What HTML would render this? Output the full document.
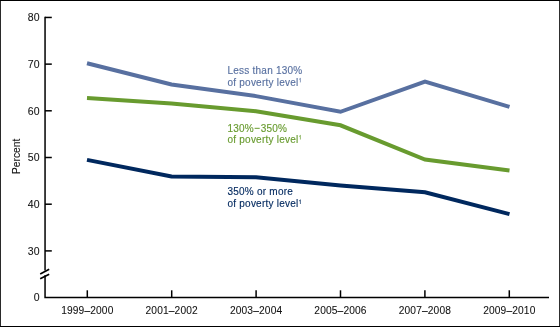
<!DOCTYPE html>
<html><head><meta charset="utf-8">
<style>
html,body{margin:0;padding:0;background:#fff;}
body{width:560px;height:328px;overflow:hidden;}
svg{display:block;will-change:transform;}
text{font-family:"Liberation Sans",sans-serif;}
.ax text{stroke:currentColor;stroke-width:0.08;}
.lb text{stroke:currentColor;stroke-width:0.14;}
</style></head>
<body>
<svg width="560" height="328" viewBox="0 0 560 328">
<rect x="0" y="0" width="560" height="328" fill="#fff"/>
<!-- frame -->
<rect x="0" y="0" width="1" height="327" fill="#2a2a2a"/>
<rect x="559" y="0" width="1" height="327" fill="#2e2e2e"/>
<rect x="0" y="0" width="560" height="1" fill="#000"/>
<rect x="0" y="326" width="560" height="1" fill="#000"/>
<!-- axes -->
<g stroke="#000" stroke-width="1.5" fill="none">
<path d="M45.05 16.7 V270.6"/>
<path d="M45.05 275.3 V297.4 H549"/>
<path d="M45 17.45 H51.8"/>
<path d="M45 64.13 H51.8"/>
<path d="M45 110.8 H51.8"/>
<path d="M45 157.5 H51.8"/>
<path d="M45 204.2 H51.8"/>
<path d="M45 250.9 H51.8"/>
<path d="M40.2 273.9 L49.2 269.3" stroke-width="1.7"/>
<path d="M40.2 278.7 L49.2 274.2" stroke-width="1.7"/>
<path d="M87.3 297 V290.3"/>
<path d="M171.7 297 V290.3"/>
<path d="M256.1 297 V290.3"/>
<path d="M340.5 297 V290.3"/>
<path d="M424.9 297 V290.3"/>
<path d="M509.3 297 V290.3"/>
</g>
<!-- y labels -->
<g font-size="10.5" fill="#111" color="#111" text-anchor="end" class="ax">
<text x="39.5" y="21">80</text>
<text x="39.5" y="68">70</text>
<text x="39.5" y="114.5">60</text>
<text x="39.5" y="161">50</text>
<text x="39.5" y="208">40</text>
<text x="39.5" y="254.5">30</text>
<text x="39.5" y="301">0</text>
</g>
<g class="ax"><text font-size="10.3" fill="#111" color="#111" text-anchor="middle" transform="translate(20 156.3) rotate(-90)">Percent</text></g>
<!-- x labels -->
<g font-size="10.2" fill="#111" color="#111" text-anchor="middle" letter-spacing="0.15" class="ax">
<text x="87.3" y="313.6">1999–2000</text>
<text x="171.7" y="313.6">2001–2002</text>
<text x="256.1" y="313.6">2003–2004</text>
<text x="340.5" y="313.6">2005–2006</text>
<text x="424.9" y="313.6">2007–2008</text>
<text x="509.3" y="313.6">2009–2010</text>
</g>
<!-- data -->
<g fill="none" stroke-width="4" stroke-linejoin="miter" stroke-linecap="butt">
<polyline stroke="#5870a0" points="87,63.2 171.5,84.5 256,96.1 340.5,111.8 425,81.7 509.5,106.9"/>
<polyline stroke="#689b2f" points="87,97.9 171.5,103.5 256,111.2 340.5,125.3 425,159.6 509.5,170.4"/>
<polyline stroke="#00285e" points="87,159.9 171.5,176.4 256,177.3 340.5,185.4 425,192.2 509.5,214.1"/>
</g>
<!-- labels -->
<g font-size="10" class="lb" letter-spacing="0.23">
<text x="227.5" y="74.2" fill="#5870a0" color="#5870a0">Less than 130%</text>
<text x="227.5" y="85.7" fill="#5870a0" color="#5870a0">of poverty level</text>
<text x="227.5" y="131.5" fill="#689b2f" color="#689b2f">130%<tspan dx="6.7">350%</tspan></text>
<rect x="254.6" y="127.8" width="5.1" height="1" fill="#689b2f"/>
<text x="227.5" y="142.8" fill="#689b2f" color="#689b2f">of poverty level</text>
<text x="227.5" y="194.9" fill="#00285e" color="#00285e">350% or more</text>
<text x="227.5" y="207.3" fill="#00285e" color="#00285e">of poverty level</text>
</g>
<path d="M300.4 78.2 V82.4 M299.0 79.5 L300.5 78.3" stroke="#5870a0" stroke-width="0.8" fill="none" opacity="0.85"/>
<path d="M300.4 135.3 V139.5 M299.0 136.6 L300.5 135.4" stroke="#689b2f" stroke-width="0.8" fill="none" opacity="0.85"/>
<path d="M300.4 199.8 V204.0 M299.0 201.1 L300.5 199.9" stroke="#00285e" stroke-width="0.8" fill="none" opacity="0.85"/>
</svg>
</body></html>
